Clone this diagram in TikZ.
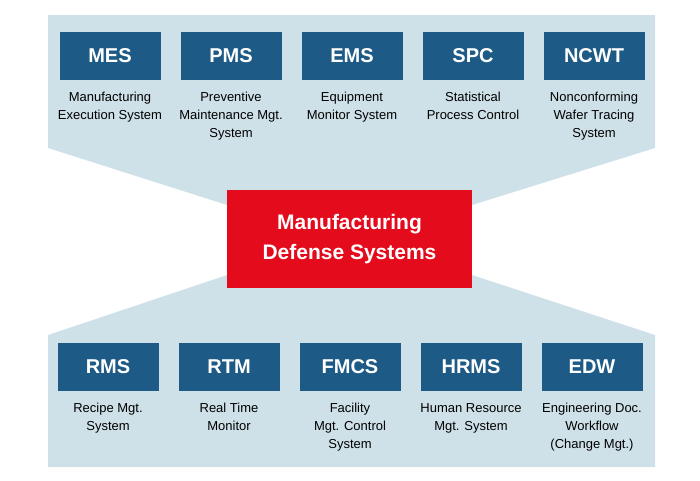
\documentclass[tikz,border=0pt]{standalone}
\usepackage{fontspec}
\setmainfont{Liberation Sans}
\definecolor{panel}{HTML}{CFE1E8}
\definecolor{boxblue}{HTML}{1D5B86}
\definecolor{defred}{HTML}{E30B1C}
\newcommand{\w}{121}

\begin{document}
\begin{tikzpicture}[x=1pt,y=-1pt,
  sys/.style={fill=boxblue, text=white, minimum width=101pt, minimum height=48pt, inner sep=0pt, font=\bfseries\fontsize{20}{22}\selectfont},
  desc/.style={below=12pt, align=center, inner sep=0pt, font=\fontsize{13}{18}\selectfont}]
    \useasboundingbox (0,0) rectangle (700,480);
    % Panels
    \fill[panel] (48,15) -- (655,15) -- (655,148) -- (472,205) -- (227,205) -- (48,148) -- cycle;
    \fill[panel] (227,275) -- (472,275) -- (655,335) -- (655,467) -- (48,467) -- (48,335) -- cycle;
    \node[fill=defred, text=white, minimum width=245pt, minimum height=98pt, align=center, font=\bfseries\fontsize{21}{30}\selectfont] (mds) at (349.5,239) {Manufacturing\\Defense Systems};

    % Top row
    \node[sys] (mes) at (110+0*\w,56) {MES};
    \node[sys] (pms) at (110+1*\w,56) {PMS};
    \node[sys] (ems) at (110+2*\w,56) {EMS};
    \node[sys] (spc) at (110+3*\w,56) {SPC};
    \node[sys] (ncwt) at (110+4*\w,56) {NCWT};
    \node[desc] at (mes.south) {Manufacturing\\Execution System};
    \node[desc] at (pms.south) {Preventive\\Maintenance Mgt.\\System};
    \node[desc] at (ems.south) {Equipment\\Monitor System};
    \node[desc] at (spc.south) {Statistical\\Process Control};
    \node[desc] at (ncwt.south) {Nonconforming\\Wafer Tracing\\System};

    % Bottom row
    \node[sys] (rms) at (108+0*\w,367) {RMS};
    \node[sys] (rtm) at (108+1*\w,367) {RTM};
    \node[sys] (fmcs) at (108+2*\w,367) {FMCS};
    \node[sys] (hrms) at (108+3*\w,367) {HRMS};
    \node[sys] (edw) at (108+4*\w,367) {EDW};
    \node[desc] at (rms.south) {Recipe Mgt.\\System};
    \node[desc] at (rtm.south) {Real Time\\Monitor};
    \node[desc] at (fmcs.south) {Facility\\Mgt. Control\\System};
    \node[desc] at (hrms.south) {Human Resource\\Mgt. System};
    \node[desc] at (edw.south) {Engineering Doc.\\Workflow\\(Change Mgt.)};
\end{tikzpicture}
\end{document}
